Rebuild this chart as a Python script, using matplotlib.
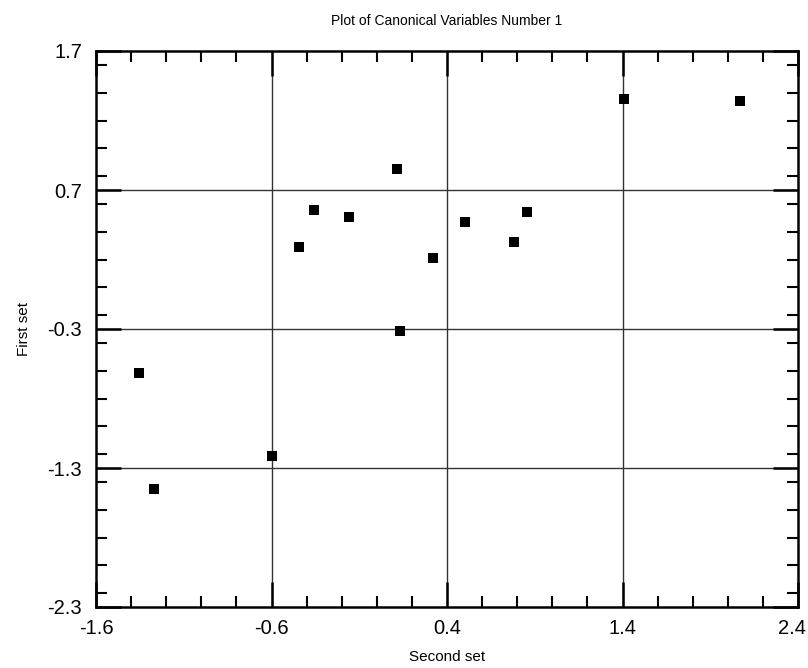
import matplotlib
matplotlib.use("Agg")
import matplotlib.pyplot as plt
import matplotlib.transforms as mtransforms
from matplotlib.ticker import MultipleLocator, FixedLocator

plt.rcParams['font.family'] = ['Liberation Sans', 'DejaVu Sans']

second_set = [-1.356, -1.267, -0.600, -0.444, -0.360, -0.160, 0.117, 0.131,
              0.319, 0.502, 0.781, 0.856, 1.410, 2.067]
first_set = [-0.614, -1.452, -1.216, 0.291, 0.558, 0.509, 0.853, -0.317,
             0.213, 0.468, 0.326, 0.544, 1.352, 1.340]

x_ticks = [-1.6, -0.6, 0.4, 1.4, 2.4]
y_ticks = [-2.3, -1.3, -0.3, 0.7, 1.7]
title = "Plot of Canonical Variables Number 1"
x_label = "Second set"
y_label = "First set"

fig = plt.figure(figsize=(8.08, 6.68), dpi=100)
ax = fig.add_axes([96/808, 1-607/668, (798-96)/808, (607-51)/668])

ax.set_xlim(x_ticks[0], x_ticks[-1])
ax.set_ylim(y_ticks[0], y_ticks[-1])

for v in x_ticks[1:-1]:
    ax.axvline(v, color='#333333', lw=1.0, zorder=1)
for v in y_ticks[1:-1]:
    ax.axhline(v, color='#333333', lw=1.0, zorder=1)

ax.scatter(second_set, first_set, marker='s', s=55, color='black', zorder=3, linewidths=0)

ax.xaxis.set_major_locator(FixedLocator(x_ticks))
ax.yaxis.set_major_locator(FixedLocator(y_ticks))
ax.xaxis.set_minor_locator(MultipleLocator(0.2))
ax.yaxis.set_minor_locator(MultipleLocator(0.2))
ax.set_xticklabels([f"{v:.1f}" for v in x_ticks])
ax.set_yticklabels([f"{v:.1f}" for v in y_ticks])

ax.tick_params(which='both', direction='in', top=True, right=True, colors='black')
ax.tick_params(which='major', length=18, width=1.8, labelsize=14.5)
ax.tick_params(axis='x', which='major', pad=9)
ax.tick_params(axis='y', which='major', pad=10)
ax.tick_params(which='minor', length=8, width=1.5)
for s in ax.spines.values():
    s.set_linewidth(1.8)

# nudge the last x tick label slightly left so it stays inside the figure
last = ax.get_xticklabels()[-1]
last.set_transform(last.get_transform() + mtransforms.ScaledTranslation(-6/100, 0, fig.dpi_scale_trans))

ax.set_title(title, fontsize=10, pad=19)
ax.set_xlabel(x_label, fontsize=11, labelpad=8)
ax.set_ylabel(y_label, fontsize=11, labelpad=12)

fig.savefig("out.png", dpi=100)
